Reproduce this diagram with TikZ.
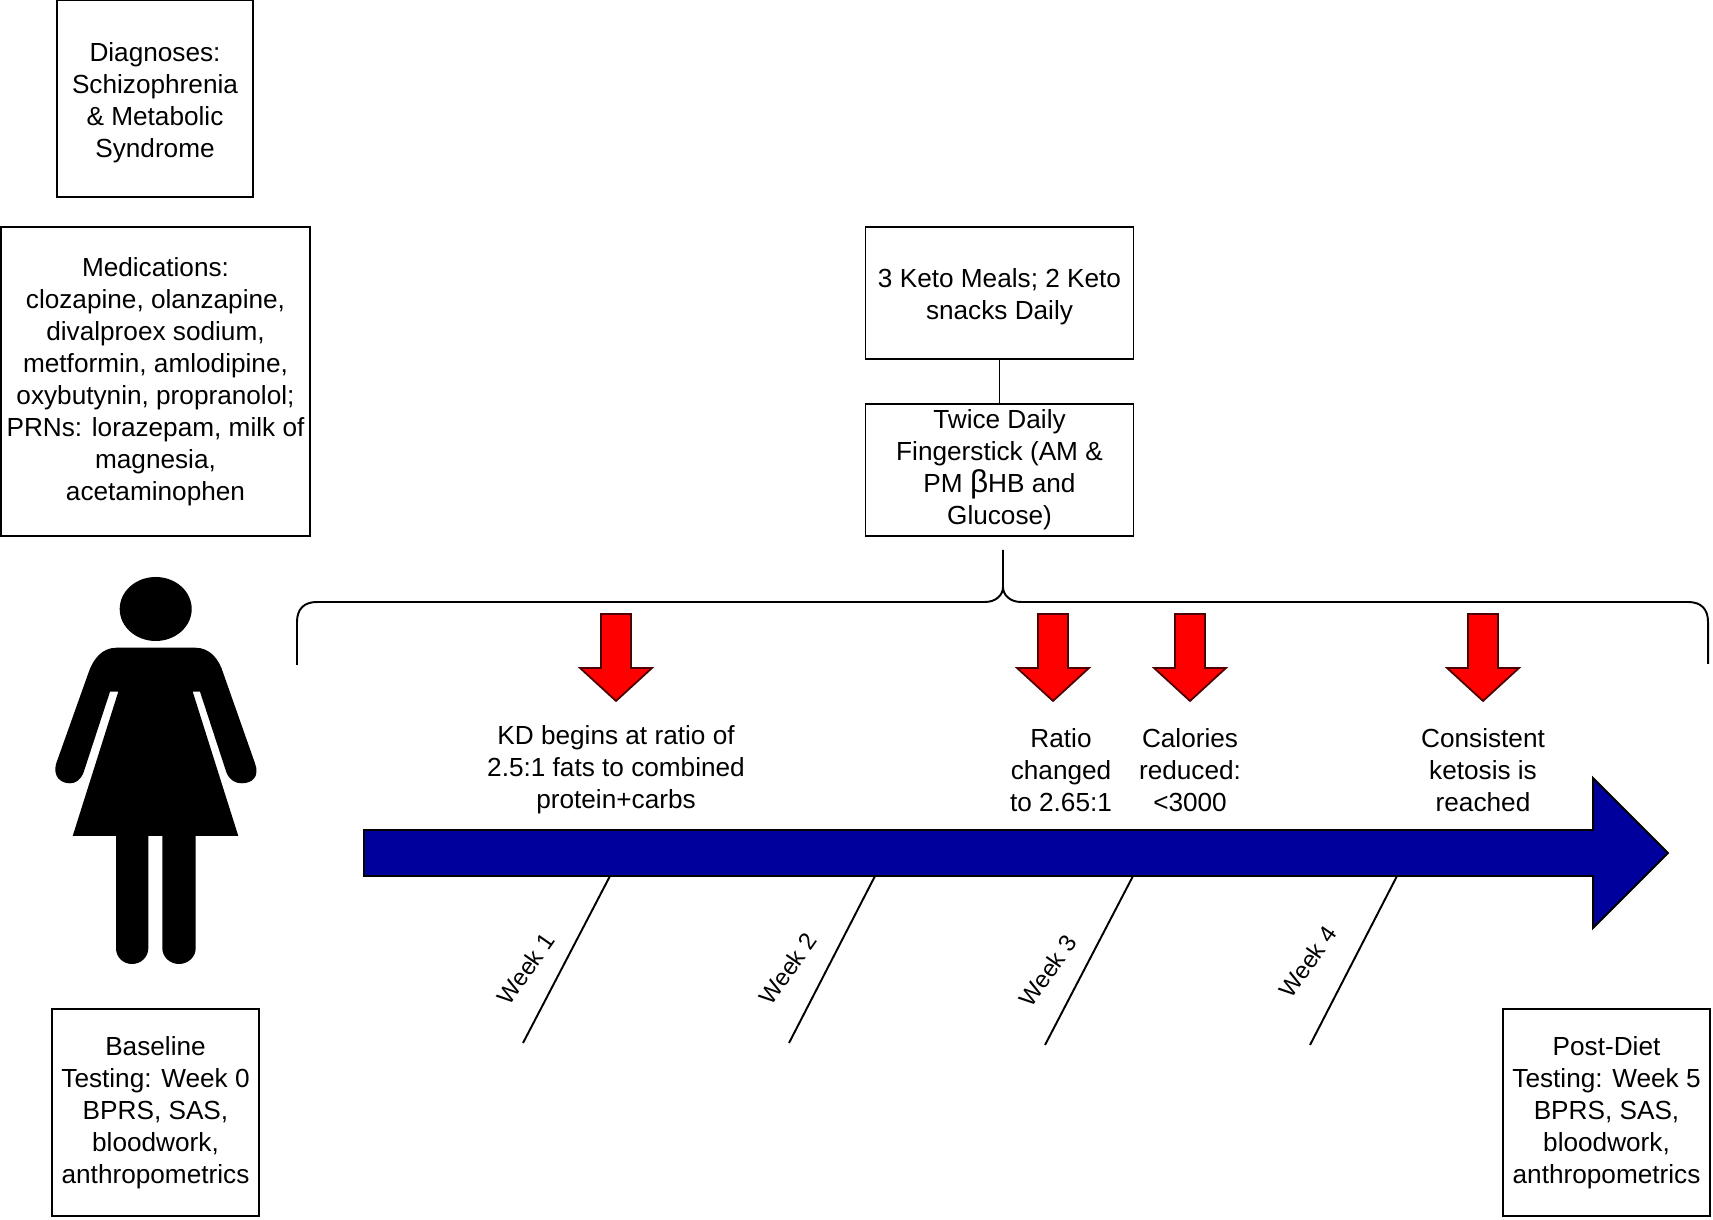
\documentclass[tikz,border=0pt]{standalone}
\usepackage{fontspec}
\setmainfont{Liberation Sans}
\tikzset{
  txt/.style={align=center, font=\fontsize{7.45}{9.1}\selectfont, inner sep=0pt},
  infobox/.style={txt, draw=black, line width=0.55pt, execute at begin node={\rule{0pt}{6.5pt}}},
  redarrow/.style={draw=black!70!red, fill=red, line width=0.5pt},
  weekline/.style={line width=0.55pt},
  weeklabel/.style={txt, font=\fontsize{6.8}{9.1}\selectfont, rotate=55}
}
\begin{document}
\begin{tikzpicture}
  \useasboundingbox (0,0) rectangle (17.13,12.19);

  % info boxes
  \node [infobox, minimum width=1.96cm, minimum height=1.97cm] (diagnoses) at (1.55,11.205) {\rule{0pt}{8pt}Diagnoses:\\Schizophrenia\\\& Metabolic\\Syndrome};
  \node [infobox, minimum width=3.09cm, minimum height=3.09cm] (meds) at (1.555,8.375) {Medications:\\clozapine, olanzapine,\\divalproex sodium,\\metformin, amlodipine,\\oxybutynin, propranolol;\\PRNs: lorazepam, milk of\\magnesia,\\acetaminophen};
  \node [infobox, minimum width=2.68cm, minimum height=1.32cm] (meals) at (9.995,9.26) {\rule{0pt}{7.5pt}3 Keto Meals; 2 Keto\\snacks Daily};
  \node [infobox, minimum width=2.68cm, minimum height=1.32cm] (finger) at (9.995,7.49) {Twice Daily\\Fingerstick (AM \&\\PM {\fontsize{9}{9.1}\selectfont β}HB and\\Glucose)};
  \node [infobox, minimum width=2.07cm, minimum height=2.07cm] (baseline) at (1.555,1.065) {Baseline\\Testing: Week 0\\BPRS, SAS,\\bloodwork,\\anthropometrics};
  \node [infobox, minimum width=2.07cm, minimum height=2.07cm] (postdiet) at (16.065,1.065) {Post-Diet\\Testing: Week 5\\BPRS, SAS,\\bloodwork,\\anthropometrics};
  \draw [line width=0.55pt] (meals) -- (finger);

  % woman
  \fill [black] (1.557,6.10) ellipse (0.36 and 0.32);
  \fill [black] (1.167,5.713) -- (1.95,5.713)
    .. controls (2.1,5.713) and (2.19,5.6) .. (2.233,5.457)
    -- (2.55,4.557)
    .. controls (2.6,4.42) and (2.52,4.357) .. (2.417,4.357)
    .. controls (2.35,4.357) and (2.3,4.39) .. (2.267,4.457)
    -- (2.0,5.273) -- (1.927,5.273) -- (2.383,3.83) -- (1.957,3.83) -- (1.957,2.707)
    .. controls (1.957,2.62) and (1.88,2.55) .. (1.79,2.55)
    .. controls (1.70,2.55) and (1.623,2.62) .. (1.623,2.707)
    -- (1.623,3.83) -- (1.483,3.83) -- (1.483,2.707)
    .. controls (1.483,2.62) and (1.41,2.55) .. (1.32,2.55)
    .. controls (1.23,2.55) and (1.16,2.62) .. (1.16,2.707)
    -- (1.16,3.83) -- (0.727,3.83) -- (1.183,5.273) -- (1.1,5.273) -- (0.833,4.457)
    .. controls (0.80,4.39) and (0.76,4.357) .. (0.7,4.357)
    .. controls (0.60,4.357) and (0.53,4.43) .. (0.56,4.55)
    -- (0.883,5.457)
    .. controls (0.93,5.6) and (1.02,5.713) .. cycle;

  % brace
  \coordinate (braceleft) at (2.97,5.54);
  \coordinate (braceright) at (17.08,5.55);
  \coordinate (bracetop) at (10.03,6.69);
  \draw [line width=0.55pt] (braceleft) -- (2.97,5.97)
    .. controls (2.97,6.1) and (3.04,6.17) .. (3.17,6.17) -- (9.85,6.17)
    .. controls (9.96,6.17) and (10.03,6.24) .. (10.03,6.32) -- (bracetop);
  \draw [line width=0.55pt] (braceright) -- (17.08,5.97)
    .. controls (17.08,6.1) and (17.01,6.17) .. (16.88,6.17) -- (10.21,6.17)
    .. controls (10.10,6.17) and (10.03,6.24) .. (10.03,6.32);

  % timeline
  \draw [fill=blue!61!black, line width=0.55pt] (3.64,3.89) -- (15.93,3.89) -- (15.93,4.41) -- (16.68,3.66)
    -- (15.93,2.91) -- (15.93,3.43) -- (3.64,3.43) -- cycle;

  % red arrows
  \draw [redarrow, xshift=6.16cm] (-0.15,6.05) -- (0.15,6.05) -- (0.15,5.51) -- (0.36,5.51) -- (0,5.18) -- (-0.36,5.51) -- (-0.15,5.51) -- cycle;
  \draw [redarrow, xshift=10.53cm] (-0.15,6.05) -- (0.15,6.05) -- (0.15,5.51) -- (0.36,5.51) -- (0,5.18) -- (-0.36,5.51) -- (-0.15,5.51) -- cycle;
  \draw [redarrow, xshift=11.90cm] (-0.15,6.05) -- (0.15,6.05) -- (0.15,5.51) -- (0.36,5.51) -- (0,5.18) -- (-0.36,5.51) -- (-0.15,5.51) -- cycle;
  \draw [redarrow, xshift=14.83cm] (-0.15,6.05) -- (0.15,6.05) -- (0.15,5.51) -- (0.36,5.51) -- (0,5.18) -- (-0.36,5.51) -- (-0.15,5.51) -- cycle;

  % event labels
  \node [txt] (start) at (6.16,4.49) {KD begins at ratio of\\2.5:1 fats to combined\\protein+carbs};
  \node [txt] (ratio) at (10.61,4.49) {Ratio\\changed\\to 2.65:1};
  \node [txt] (calories) at (11.90,4.49) {Calories\\reduced:\\<3000};
  \node [txt] (ketosis) at (14.83,4.49) {Consistent\\ketosis is\\reached};

  % week ticks
  \coordinate (tickonetop) at (6.10,3.43);
  \coordinate (tickoneend) at (5.23,1.76);
  \coordinate (ticktwotop) at (8.75,3.43);
  \coordinate (ticktwoend) at (7.89,1.76);
  \coordinate (tickthreetop) at (11.33,3.43);
  \coordinate (tickthreeend) at (10.45,1.74);
  \coordinate (tickfourtop) at (13.97,3.43);
  \coordinate (tickfourend) at (13.10,1.74);
  \draw [weekline] (tickonetop) -- (tickoneend);
  \draw [weekline] (ticktwotop) -- (ticktwoend);
  \draw [weekline] (tickthreetop) -- (tickthreeend);
  \draw [weekline] (tickfourtop) -- (tickfourend);
  \node [weeklabel] (weekone) at (5.26,2.50) {Week 1};
  \node [weeklabel] (weektwo) at (7.88,2.50) {Week 2};
  \node [weeklabel] (weekthree) at (10.48,2.48) {Week 3};
  \node [weeklabel] (weekfour) at (13.08,2.57) {Week 4};
\end{tikzpicture}
\end{document}
